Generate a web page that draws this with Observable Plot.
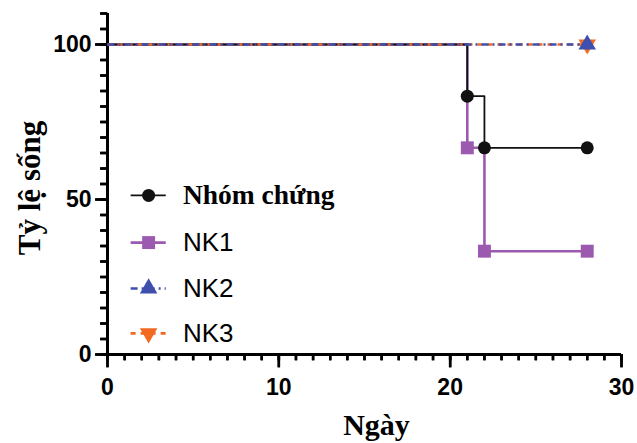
<!DOCTYPE html>
<html>
<head>
<meta charset="utf-8">
<script src="https://cdn.jsdelivr.net/npm/d3@7"></script>
<script src="https://cdn.jsdelivr.net/npm/@observablehq/plot@0.6"></script>
<style>
  html, body { margin: 0; padding: 0; background: #fff; }
</style>
</head>
<body>
<div id="chart"></div>
<script>
// ---- data ----
const seriesNames = ["Nhóm chứng", "NK1", "NK2", "NK3"];
const controlDays = [0, 21, 22, 28];
const controlSurvival = [100, 83.33, 66.67, 66.67];
const nk1Days = [0, 21, 22, 28];
const nk1Survival = [100, 66.67, 33.33, 33.33];
const nk2Days = [0, 28];
const nk2Survival = [100, 100];
const nk3Days = [0, 28];
const nk3Survival = [100, 100];
const xMajorTicks = [0, 10, 20, 30];
const xMinorTicks = d3.range(0, 31, 1);
const yMajorTicks = [0, 50, 100];
const yMinorTicks = d3.range(0, 111, 5);

// ---- styles ----
const colors = {"Nhóm chứng": "#111111", "NK1": "#9B59B0", "NK2": "#3F4FAE", "NK3": "#F26A22"};
const widths = {"Nhóm chứng": 1.8, "NK1": 2.6, "NK2": 2.6, "NK3": 2.6};
const dashes = {"Nhóm chứng": null, "NK1": null, "NK2": "7 4 2 4", "NK3": "5 5"};
const triangleDown = {
  draw(context, size) {
    const y = -Math.sqrt(size / (Math.sqrt(3) * 3));
    context.moveTo(0, -y * 2);
    context.lineTo(-Math.sqrt(3) * y, y);
    context.lineTo(Math.sqrt(3) * y, y);
    context.closePath();
  }
};
// filled tick glyphs (a thin bar pointing outward from the axis)
const tickBarDown = len => ({draw(context) { context.rect(-1.25, 0, 2.5, len); }});
const tickBarLeft = len => ({draw(context) { context.rect(-len, -1.25, len, 2.5); }});

const symbols = {"Nhóm chứng": "circle", "NK1": "square", "NK2": "triangle", "NK3": triangleDown};
const radii = {"Nhóm chứng": 6.5, "NK1": 7.3, "NK2": 6.5, "NK3": 6.5};

const build = (name, days, surv) => days.map((d, i) => ({name, day: d, survival: surv[i]}));
const series = {
  "Nhóm chứng": build("Nhóm chứng", controlDays, controlSurvival),
  "NK1": build("NK1", nk1Days, nk1Survival),
  "NK2": build("NK2", nk2Days, nk2Survival),
  "NK3": build("NK3", nk3Days, nk3Survival)
};

// legend layout (in axis units)
const legendLineX = [1.35, 3.4];
const legendMarkX = 2.4;
const legendTextX = 4.4;
const legendRowsY = [51.3, 36.1, 21.3, 6.8];
const legendRows = seriesNames.map((name, i) => ({name, y: legendRowsY[i]}));

const drawOrder = ["NK1", "Nhóm chứng", "NK3", "NK2"];

const marks = [];
// axes: ticks (minor + major), tick labels, then axis lines
marks.push(
  Plot.axisX(xMinorTicks, {tickSize: 6, strokeWidth: 2.5, stroke: "#000", tickFormat: () => "", label: null}),
  Plot.axisX(xMajorTicks, {tickSize: 13, tickPadding: 11, strokeWidth: 2.5, stroke: "#000", fontSize: 23,
    fontWeight: "bold", fontFamily: "Liberation Sans", fill: "#000", label: null}),
  Plot.axisY(yMinorTicks, {tickSize: 7, strokeWidth: 2.5, stroke: "#000", tickFormat: () => "", label: null}),
  Plot.axisY(yMajorTicks, {tickSize: 12, tickPadding: 4, strokeWidth: 2.5, stroke: "#000", fontSize: 23,
    fontWeight: "bold", fontFamily: "Liberation Sans", fill: "#000", label: null}),
  Plot.dot(xMinorTicks, {x: d => d, y: () => 0, symbol: tickBarDown(6), fill: "#000", stroke: "none"}),
  Plot.dot(xMajorTicks, {x: d => d, y: () => 0, symbol: tickBarDown(13), fill: "#000", stroke: "none"}),
  Plot.dot(yMinorTicks, {x: () => 0, y: d => d, symbol: tickBarLeft(7), fill: "#000", stroke: "none"}),
  Plot.dot(yMajorTicks, {x: () => 0, y: d => d, symbol: tickBarLeft(12), fill: "#000", stroke: "none"}),
  Plot.ruleX([0], {strokeWidth: 3, stroke: "#000"}),
  Plot.ruleY([0], {strokeWidth: 3, stroke: "#000", insetLeft: -1.5})
);
// lines
for (const name of drawOrder) {
  marks.push(Plot.line(series[name], {
    x: "day", y: "survival", curve: "step-after",
    stroke: colors[name], strokeWidth: widths[name],
    strokeDasharray: dashes[name], strokeLinecap: "butt"
  }));
}
// markers (drop / censor points; all except day 0)
for (const name of ["NK1", "Nhóm chứng", "NK3", "NK2"]) {
  marks.push(Plot.dot(series[name].slice(1), {
    x: "day", y: "survival", symbol: symbols[name], r: radii[name],
    fill: colors[name], stroke: "none"
  }));
}
// legend
for (const row of legendRows) {
  const name = row.name;
  marks.push(Plot.link([row], {
    x1: () => legendLineX[0], x2: () => legendLineX[1], y1: "y", y2: "y",
    stroke: colors[name], strokeWidth: widths[name], strokeDasharray: dashes[name]
  }));
  marks.push(Plot.dot([row], {
    x: () => legendMarkX, y: "y", symbol: symbols[name], r: radii[name],
    fill: colors[name], stroke: "none"
  }));
  const isControl = name === "Nhóm chứng";
  marks.push(Plot.text([row], {
    x: () => legendTextX, y: "y", text: "name", textAnchor: "start",
    fontFamily: isControl ? "Liberation Serif" : "Liberation Sans",
    fontWeight: isControl ? "bold" : "normal",
    fontSize: isControl ? 27.5 : 26, fill: "#000"
  }));
}
// axis titles
marks.push(
  Plot.text(["Tỷ lệ sống"], {frameAnchor: "left", rotate: -90, textAnchor: "middle",
    dx: -77, dy: 4, fontFamily: "Liberation Serif", fontWeight: "bold", fontSize: 31, fill: "#000"}),
  Plot.text(["Ngày"], {frameAnchor: "bottom", dx: 12, dy: 80,
    fontFamily: "Liberation Serif", fontWeight: "bold", fontSize: 30, fill: "#000"})
);

const chart = Plot.plot({
  width: 637,
  height: 443,
  marginLeft: 107,
  marginRight: 16,
  marginTop: 13,
  marginBottom: 89,
  x: {domain: [0, 30]},
  y: {domain: [0, 110]},
  marks
});
document.getElementById("chart").appendChild(chart);
</script>
</body>
</html>
